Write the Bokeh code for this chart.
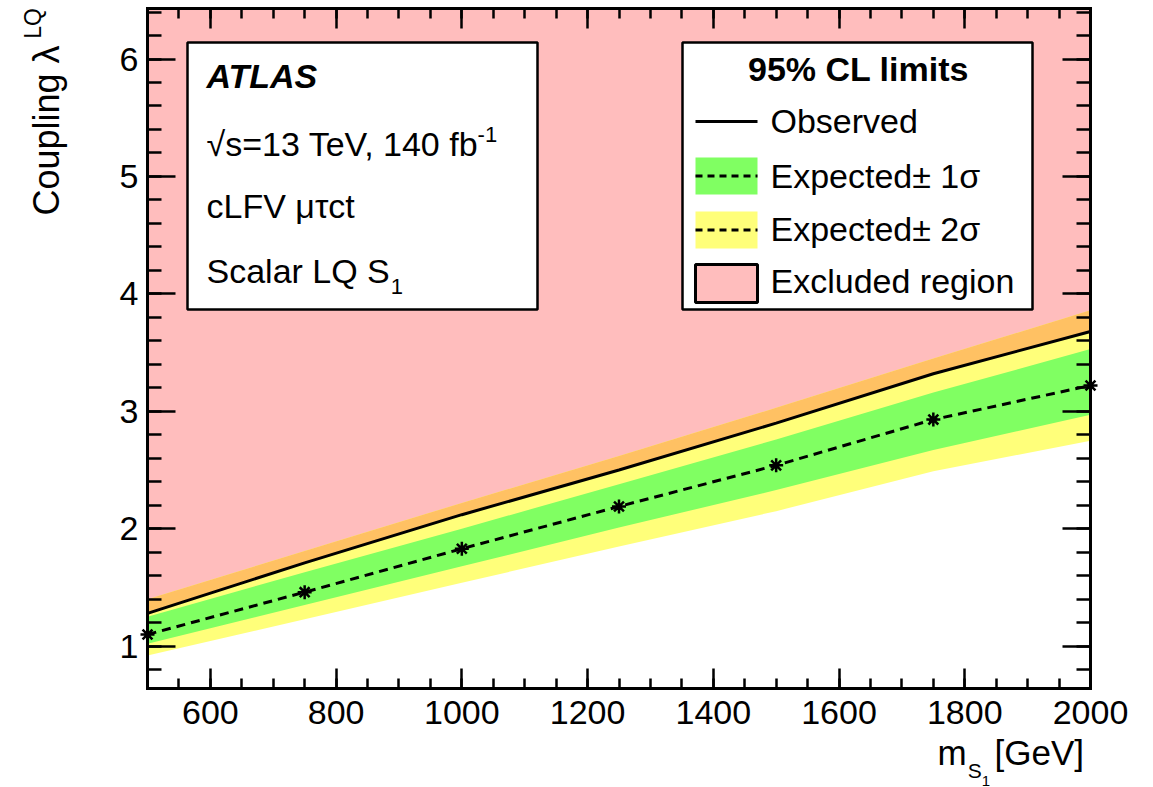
import math
from bokeh.plotting import figure
from bokeh.models import (Range1d, LinearAxis, SingleIntervalTicker, Label,
                          BoxAnnotation, Arrow)
from bokeh.embed import file_html
from bokeh.resources import INLINE

# ---------------- data ----------------
mass = [500, 750, 1000, 1250, 1500, 1750, 2000]
expected = [1.10, 1.46, 1.83, 2.19, 2.54, 2.93, 3.22]
exp_minus1 = [1.02, 1.35, 1.68, 2.01, 2.33, 2.67, 2.97]
exp_plus1 = [1.25, 1.63, 2.00, 2.38, 2.76, 3.16, 3.53]
exp_minus2 = [0.92, 1.23, 1.54, 1.85, 2.15, 2.49, 2.75]
exp_plus2 = [1.40, 1.81, 2.22, 2.62, 3.03, 3.45, 3.86]
observed = [1.28, 1.71, 2.12, 2.50, 2.90, 3.32, 3.68]

x_window = (500, 2000)
y_window = (0.64, 6.43)

atlas_lines = ["ATLAS", "\u221As=13 TeV, 140 fb", "cLFV \u03bc\u03c4ct", "Scalar LQ S"]
legend_title = "95% CL limits"
legend_labels = ["Observed", "Expected\u00b1 1\u03c3", "Expected\u00b1 2\u03c3", "Excluded region"]

# ---------------- style / layout ----------------
PINK = "#FFBDBD"
ORANGE = "#FFC163"
YELLOW = "#FFFF7A"
GREEN = "#80FF62"
FONT = "Liberation Sans"

W, H = 1153, 787
FL, FR, FT, FB = 147, 1090, 8, 688   # axes box in page pixels

KX = (x_window[1] - x_window[0]) / (FR - FL)
KY = (y_window[1] - y_window[0]) / (FB - FT)
x_full = (x_window[0] - FL * KX, x_window[1] + (W - FR) * KX)
y_full = (y_window[0] - (H - FB) * KY, y_window[1] + FT * KY)


def dx(px):
    return x_full[0] + px * KX


def dy(py):
    return y_full[1] - py * KY


WID = {' ': 278, '\u221A': 300, 's': 500, '=': 584, 'T': 611, 'e': 556, 'V': 667,
       ',': 278, 'f': 278, 'b': 556, 'S': 667, 'c': 500, 'a': 556, 'l': 222,
       'r': 333, 'L': 556, 'Q': 778, 'C': 722, 'o': 556, 'u': 556, 'p': 556,
       'i': 222, 'n': 556, 'g': 556, '\u03bb': 520, 'm': 833}


def tw(s, size):
    return sum(WID.get(ch, 556) for ch in s) / 1000.0 * size


p = figure(width=W, height=H, x_range=Range1d(*x_full), y_range=Range1d(*y_full),
           output_backend="svg", toolbar_location=None,
           min_border=0, min_border_left=0, min_border_right=0,
           min_border_top=0, min_border_bottom=0)
p.xgrid.visible = False
p.ygrid.visible = False
p.background_fill_color = "white"
p.border_fill_color = "white"
p.outline_line_color = None

n = len(mass)
p.varea(x=mass, y1=observed, y2=[y_window[1]] * n, fill_color=PINK)
p.varea(x=mass, y1=exp_minus2, y2=exp_plus2, fill_color=YELLOW)
p.varea(x=mass, y1=observed, y2=exp_plus2, fill_color=ORANGE)
p.varea(x=mass, y1=exp_minus1, y2=exp_plus1, fill_color=GREEN)
p.line(mass, observed, line_color="black", line_width=3)
p.line(mass, expected, line_color="black", line_width=3, line_dash="9 6")
p.scatter(mass, expected, marker="asterisk", size=14, line_color="black", line_width=2.5)


def style_axis(ax, major_in, minor_in, labels=True, standoff=6):
    ax.major_tick_in = major_in
    ax.major_tick_out = 0
    ax.minor_tick_in = minor_in
    ax.minor_tick_out = 0
    ax.axis_line_width = 3
    ax.axis_line_color = "black"
    ax.axis_line_cap = "square"
    ax.major_tick_line_width = 2.5
    ax.minor_tick_line_width = 2.5
    ax.major_tick_line_color = "black"
    ax.minor_tick_line_color = "black"
    ax.major_label_text_font = FONT
    ax.major_label_text_font_size = "34px"
    ax.major_label_standoff = standoff
    if labels:
        ax.major_label_text_color = "black"
    else:
        ax.major_label_text_color = None
        ax.major_label_text_alpha = 0


xa = p.xaxis[0]
xa.ticker = SingleIntervalTicker(interval=200, num_minor_ticks=4)
xa.fixed_location = y_window[0]
xa.bounds = x_window
style_axis(xa, 20, 10, True, 12)
ya = p.yaxis[0]
ya.ticker = SingleIntervalTicker(interval=1, num_minor_ticks=5)
ya.fixed_location = x_window[0]
ya.bounds = y_window
style_axis(ya, 28, 14, True, 9)

top_ax = LinearAxis(ticker=SingleIntervalTicker(interval=200, num_minor_ticks=4),
                    fixed_location=y_window[1], bounds=x_window)
style_axis(top_ax, 20, 10, False)
p.add_layout(top_ax, "above")
right_ax = LinearAxis(ticker=SingleIntervalTicker(interval=1, num_minor_ticks=5),
                      fixed_location=x_window[1], bounds=y_window)
style_axis(right_ax, 28, 14, False)
p.add_layout(right_ax, "right")


def label(px, py, text, size, style="normal", align="left", angle=0.0):
    # py is the vertical centre of the text line, in page pixels
    p.add_layout(Label(x=dx(px), y=dy(py), text=text, text_font=FONT,
                       text_font_size=f"{size}px", text_font_style=style,
                       text_color="black", text_align=align,
                       text_baseline="middle", angle=angle))


def box(l, t, r, b, fill, line_color="black", line_width=2.5):
    p.add_layout(BoxAnnotation(left=dx(l), right=dx(r), top=dy(t), bottom=dy(b),
                               fill_color=fill, fill_alpha=1.0,
                               line_color=line_color, line_alpha=1.0,
                               line_width=line_width))


def hline(x0, x1, py, dash="solid"):
    p.add_layout(Arrow(end=None, x_start=dx(x0), y_start=dy(py), x_end=dx(x1),
                       y_end=dy(py), line_color="black", line_width=3, line_dash=dash))


# ---------------- ATLAS box ----------------
box(187, 42, 537, 309, "white")
TX = 206
label(TX, 75, atlas_lines[0], 34, "bold italic")
label(TX, 143, atlas_lines[1], 34)
label(TX + tw(atlas_lines[1], 34) + 1, 134, "-1", 22)
label(TX, 205, atlas_lines[2], 34)
label(TX, 270, atlas_lines[3], 34)
label(TX + tw(atlas_lines[3], 34) + 1, 286, "1", 22)

# ---------------- legend ----------------
box(682, 42, 1032, 309, "white")
label(858, 68, legend_title, 34, "bold", align="center")
LX0, LX1, TXL = 695, 757, 770
hline(LX0, LX1, 121)
label(TXL, 120, legend_labels[0], 34)
box(LX0, 157, LX1, 194, GREEN, line_color=None, line_width=0)
hline(LX0, LX1, 175.5, "7 5")
label(TXL, 175, legend_labels[1], 34)
box(LX0, 211, LX1, 248, YELLOW, line_color=None, line_width=0)
hline(LX0, LX1, 229.5, "7 5")
label(TXL, 228, legend_labels[2], 34)
box(LX0, 264, LX1, 302, PINK, line_color="black", line_width=3)
label(TXL, 280, legend_labels[3], 34)

# ---------------- axis titles ----------------
ytitle = "Coupling \u03bb"
label(46, 215, ytitle, 36, angle=math.pi / 2)
label(32, 215 - tw(ytitle, 36) - 6, "LQ", 23, angle=math.pi / 2)

mx = 937
label(mx, 752, "m", 35)
sx = mx + tw("m", 35) + 1
label(sx, 770, "S", 21)
label(sx + tw("S", 21), 780, "1", 15)
label(994, 752, "[GeV]", 35)

open("out.html", "w").write(file_html(p, INLINE))
